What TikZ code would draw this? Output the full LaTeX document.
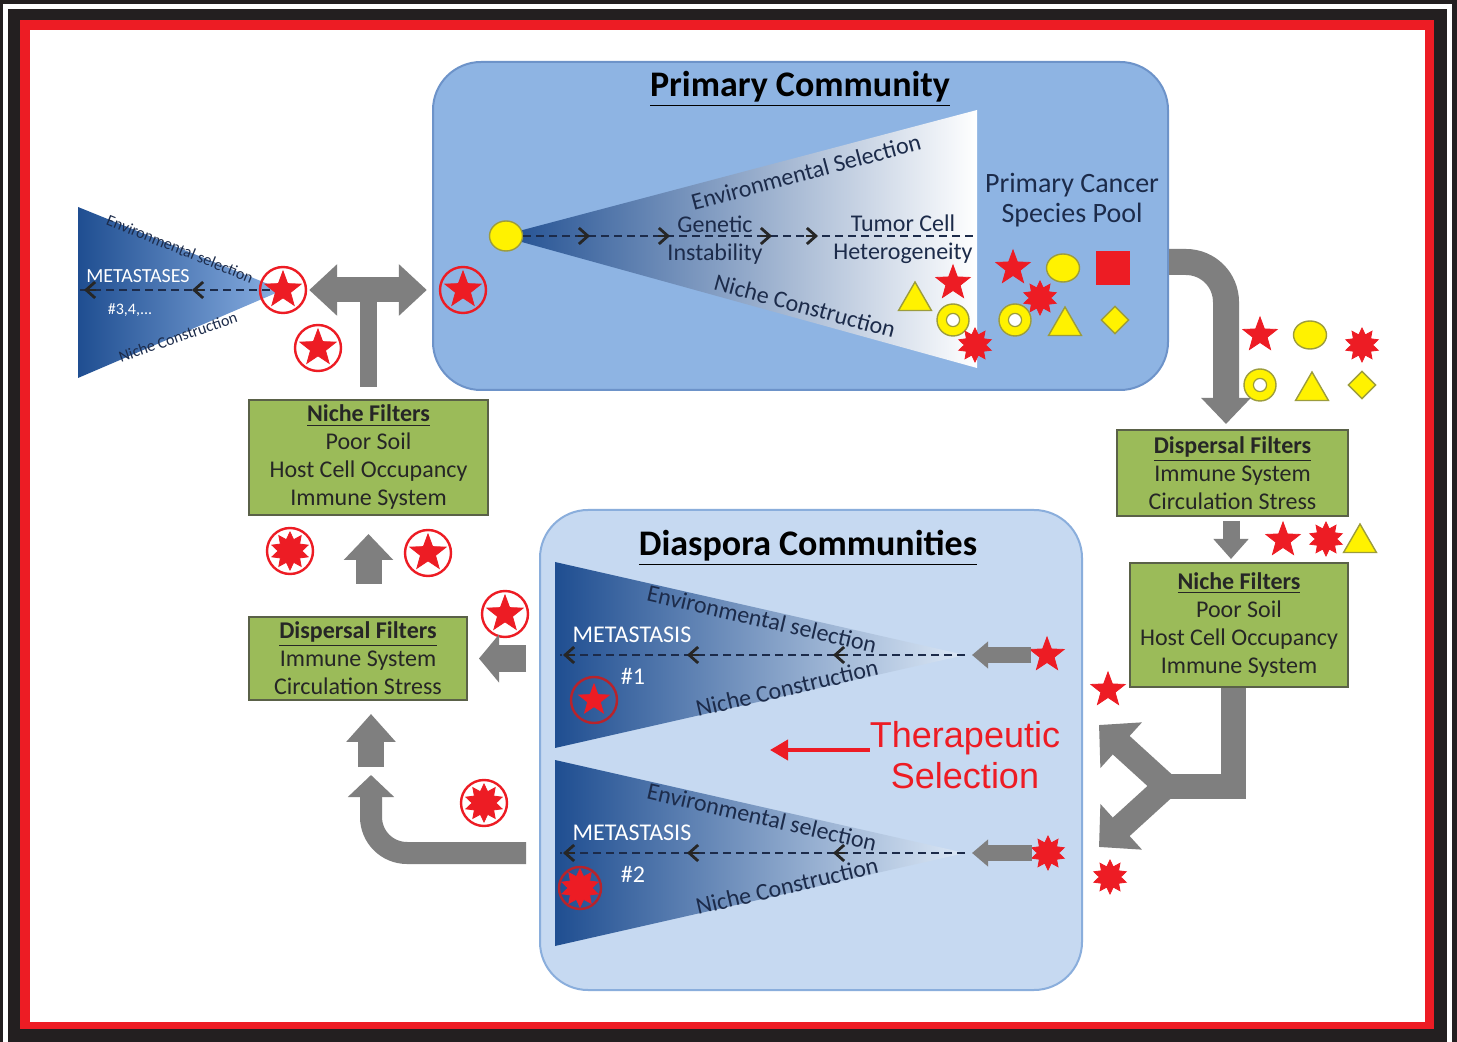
\documentclass[tikz,border=0pt]{standalone}
\usepackage{fontspec}
\setmainfont{Carlito}
\newfontfamily\arialfont{Liberation Sans}
\usepackage{tikz}
\usetikzlibrary{positioning}
\usetikzlibrary{shapes.geometric,arrows.meta}

\definecolor{FrameBlack}{HTML}{231F20}
\definecolor{PoolBlue}{HTML}{8EB4E3}
\definecolor{PoolEdge}{HTML}{6D93C9}
\definecolor{DiasBlue}{HTML}{C6D9F1}
\definecolor{DiasEdge}{HTML}{8AAEDC}
\definecolor{TriDeep}{HTML}{1F4E91}
\definecolor{LeftTip}{HTML}{8AB0E3}
\definecolor{TriPale}{HTML}{DCE8F6}
\definecolor{FilterGreen}{HTML}{9BBB59}
\definecolor{FilterEdge}{HTML}{5A6148}
\definecolor{ArrowGray}{HTML}{7F7F7F}
\definecolor{CellRed}{HTML}{ED1C24}
\definecolor{MarkDark}{HTML}{B8232B}
\definecolor{CellYellow}{HTML}{FFF200}
\definecolor{CellEdge}{HTML}{9C9C3C}
\definecolor{LabelNavy}{HTML}{1C2B4A}

\tikzset{
  community/.style={rounded corners=24pt, line width=1pt, inner sep=0pt},
  filterbox/.style={draw=FilterEdge, line width=1pt, fill=FilterGreen, align=center,
    inner sep=0pt, text=black!85, font=\fontsize{12}{14}\selectfont},
  titlelabel/.style={inner sep=0pt, font=\fontsize{18}{20}\selectfont\bfseries},
  tracelabel/.style={text=LabelNavy, inner sep=0pt, font=\fontsize{12}{14}\selectfont},
  smalllabel/.style={text=LabelNavy, inner sep=0pt, font=\fontsize{8}{9}\selectfont},
  metalabel/.style={text=white, inner sep=0pt, font=\fontsize{12}{14}\selectfont},
  tracer/.style={draw=LabelNavy, line width=1pt, dash pattern=on 4pt off 2.5pt},
  barb/.style={draw=black!85, line width=1.4pt, -{Straight Barb[length=4.5pt,width=8pt]}},
  flowarrow/.style={draw=ArrowGray, line width=#1},
  cellstar/.style={star, star points=5, star point ratio=2.4, fill=CellRed, draw=CellRed,
    inner sep=0pt, minimum size=18pt},
  cellburst/.style={star, star points=10, star point ratio=1.6, fill=CellRed, draw=CellRed,
    inner sep=0pt, minimum size=17pt},
  cellblob/.style={ellipse, fill=CellYellow, draw=CellEdge, line width=0.7pt, inner sep=0pt,
    minimum width=16.5pt, minimum height=14pt},
  cellring/.style={circle, fill=CellYellow, draw=CellEdge, line width=0.7pt, inner sep=0pt,
    minimum size=16pt, path picture={\draw[CellEdge, fill=white, line width=0.6pt]
      (path picture bounding box.center) circle (3.3pt);}},
  celltri/.style={regular polygon, regular polygon sides=3, fill=CellYellow, draw=CellEdge,
    line width=0.7pt, inner sep=0pt, minimum size=19pt},
  celldiam/.style={diamond, fill=CellYellow, draw=CellEdge, line width=0.7pt, inner sep=0pt,
    minimum size=14pt},
  cellbox/.style={rectangle, fill=CellRed, inner sep=0pt, minimum size=17pt},
  ringmark/.style={circle, draw=CellRed, line width=1.2pt, inner sep=0pt, minimum size=23pt}
}

\begin{document}
\begin{tikzpicture}[x=0.5pt,y=-0.5pt]
\useasboundingbox (0,0) rectangle (1457,1042);
% frame
\fill[FrameBlack] (0,0) rectangle (1457,1042);
\draw[white, line width=2.5pt] (5.5,1042) -- (5.5,6.5) -- (1449.5,6.5) -- (1449.5,1042);
\fill[CellRed] (20,20) rectangle (1434,1029);
\fill[white] (30,30) rectangle (1425,1022);

% communities
\node[community, draw=PoolEdge, fill=PoolBlue, minimum width=367.5pt, minimum height=164pt] (primary) at (800.5,226) {};
\node[community, draw=DiasEdge, fill=DiasBlue, minimum width=271pt, minimum height=240pt] (diaspora) at (811,750) {};
\node[titlelabel] (ptitle) at (800,89) {\underline{Primary Community}};
\node[titlelabel] (dtitle) at (808,548) {\underline{Diaspora Communities}};

% primary triangle
\coordinate (papex) at (500,236);
\coordinate (ptop) at (977,110);
\coordinate (pbot) at (977,368);
\shade[left color=TriDeep, right color=white] (papex) -- (ptop) -- (pbot) -- cycle;
\node[cellblob, minimum height=15pt] (seed) at (506,236) {};
\draw[tracer] (seed.east) -- (ptop |- seed);
\foreach \ax in {590,670,772,818}
  \draw[barb] (\ax-12,236) -- (\ax,236);
\node[tracelabel, rotate=15] (penv) at (806,172) {Environmental Selection};
\node[tracelabel, rotate=-15] (pniche) at (805,306) {Niche Construction};
\node[tracelabel, align=center] (pgen) at (715,240) {Genetic\\Instability};
\node[tracelabel, align=center] (phet) at (903,239) {Tumor Cell\\Heterogeneity};
\node[celltri] (ptri) at (915,301) {};
\node[cellstar] (pstar) at (953,283) {};
\node[cellring] (pring) at (953,320) {};
\node[cellburst] (pburst) at (975,345) {};

% species pool
\node[tracelabel, align=center, font=\fontsize{14}{15}\selectfont] (pool) at (1072,200) {Primary Cancer\\Species Pool};
\node[cellstar] (sstar) at (1013,268) {};
\node[cellblob] (sblob) at (1063,268) {};
\node[cellbox] (sbox) at (1113,268) {};
\node[cellburst] (sburst) at (1040,298) {};
\node[cellring] (sring) at (1015,320) {};
\node[celltri] (stri) at (1065,326) {};
\node[celldiam] (sdiam) at (1115,320) {};

% left triangle
\coordinate (lapex) at (283,290);
\coordinate (ltop) at (78,207);
\coordinate (lbot) at (78,378);
\shade[left color=TriDeep, right color=LeftTip] (ltop) -- (lapex) -- (lbot) -- cycle;
\draw[tracer] (lapex) -- (ltop |- lapex);
\foreach \ax in {84,192}
  \draw[barb] (\ax+12,290) -- (\ax,290);
\node[smalllabel, rotate=-22] (lenv) at (180,249) {Environmental selection};
\node[smalllabel, rotate=19] (lniche lbl) at (178,337) {Niche Construction};
\node[metalabel, font=\fontsize{10}{12}\selectfont] (lmeta) at (138,276) {METASTASES};
\node[metalabel, font=\fontsize{8}{9}\selectfont] (lnum) at (130,310) {\#3,4,...};

% circled cells
\foreach \m/\x/\y/\kind in {p/463/290/cellstar, l/283/290/cellstar, a/318/348/cellstar,
    b/290/551/cellburst, c/428/553/cellstar, d/505/614/cellstar, e/484/803/cellburst}{
  \node[ringmark] (mark\m) at (\x,\y) {};
  \node[\kind, minimum size=19pt] (core\m) at (mark\m) {};
}

% filters
\node[filterbox, minimum width=119.5pt, minimum height=57.5pt] (lniche) at (368.5,457.5)
  {\textbf{\underline{Niche Filters}}\\Poor Soil\\Host Cell Occupancy\\Immune System};
\node[filterbox, minimum width=109pt, minimum height=41.5pt] (ldisp) at (358,658.5)
  {\textbf{\underline{Dispersal Filters}}\\Immune System\\Circulation Stress};
\node[filterbox, minimum width=115.5pt, minimum height=43pt] (rdisp) at (1232.5,473)
  {\textbf{\underline{Dispersal Filters}}\\Immune System\\Circulation Stress};
\node[filterbox, minimum width=109pt, minimum height=62pt] (rniche) at (1239,625)
  {\textbf{\underline{Niche Filters}}\\Poor Soil\\Host Cell Occupancy\\Immune System};

% escaped cells
\node[cellstar] (estar) at (1260,335) {};
\node[cellblob] (eblob) at (1310,335) {};
\node[cellburst] (eburst) at (1362,345) {};
\node[cellring] (ering) at (1260,385) {};
\node[celltri] (etri) at (1312,391) {};
\node[celldiam] (ediam) at (1362,385) {};
\node[cellstar] (fstar) at (1283,540) {};
\node[cellburst] (fburst) at (1326,539) {};
\node[celltri] (ftri) at (1360,543) {};
\node[cellstar] (gstar) at (1108,690) {};
\node[cellburst] (gburst) at (1110,877) {};

% diaspora triangles
\foreach \n/\ty in {1/655,2/853}{
  \coordinate (dapex\n) at (965,\ty);
  \shade[left color=TriDeep, right color=TriPale] (555,\ty-93) -- (dapex\n) -- (555,\ty+93) -- cycle;
  \draw[tracer] (dapex\n) -- (560,\ty);
  \foreach \ax in {563,687,833}
    \draw[barb] (\ax+12,\ty) -- (\ax,\ty);
  \node[tracelabel, rotate=-13] (denv\n) at (762,\ty-36) {Environmental selection};
  \node[tracelabel, rotate=13] (dniche\n) at (787,\ty+33) {Niche Construction};
  \node[metalabel] (dmeta\n) at (632,\ty-20) {METASTASIS};
  \node[metalabel] (dnum\n) at (633,\ty+21) {\#\n};
}
\node[ringmark, draw=MarkDark] (markf) at (594,700) {};
\node[cellstar, minimum size=16pt] (coref) at (markf) {};
\node[ringmark, draw=MarkDark, minimum size=21pt] (markg) at (580,888) {};
\node[cellburst, minimum size=19pt] (coreg) at (markg) {};
\node[cellstar] (dcell1) at (1047,655) {};
\node[cellburst] (dcell2) at (1048,853) {};

% therapy
\node[text=CellRed, align=center, inner sep=0pt, font=\arialfont\fontsize{18}{20.5}\selectfont] (thera) at (965,755) {Therapeutic\\Selection};
\draw[draw=CellRed, line width=2pt, -{Triangle[width=10pt,length=9pt]}] ([yshift=2.5pt]thera.west) -- ([yshift=2.5pt]thera.west -| 770,0);

% gray arrows
\draw[flowarrow=8.5pt, shorten <=6pt] (lniche.north) -- (lniche.north |- markl);
\draw[flowarrow=12.5pt, {Triangle[width=25pt,length=14pt]}-{Triangle[width=25pt,length=14pt]}, shorten <=1pt, shorten >=6pt] (markl.east) -- (markp.west);
\draw[flowarrow=13pt, rounded corners=20pt, -{Triangle[width=24pt,length=13pt]}, shorten >=2.5pt] (primary.east |- 0,262) -| (rdisp.north -| 1226,0);
\draw[flowarrow=8.5pt, -{Triangle[width=17pt,length=10pt]}, shorten <=2pt, shorten >=1.5pt] (rdisp.south -| 1231,0) -- (rniche.north -| 1231,0);
\coordinate (yfork) at (1166,786);
\coordinate (yup) at (1099,725);
\coordinate (ydown) at (1099,847);
\draw[flowarrow=12.5pt] (rniche.south -| 1233,0) |- (yfork);
\draw[flowarrow=12.5pt, -{Triangle[width=30pt,length=15pt]}] (yfork) -- (yup);
\draw[flowarrow=12.5pt, -{Triangle[width=30pt,length=15pt]}] (yfork) -- (ydown);
\foreach \n in {1,2}
  \draw[flowarrow=8pt, -{Triangle[width=13pt,length=8pt]}, shorten <=2.5pt, shorten >=3.5pt] (dcell\n.west) -- (dapex\n);
\draw[flowarrow=13.5pt, -{Triangle[width=23.5pt,length=10pt]}, shorten <=6.5pt, shorten >=5.5pt] (diaspora.west |- ldisp.east) -- (ldisp.east);
\draw[flowarrow=13pt, -{Triangle[width=24pt,length=13pt]}, shorten <=16pt, shorten >=9pt] (ldisp.north -| lniche.south) -- (lniche.south);
\coordinate (lturn) at (371,771);
\draw[flowarrow=11pt, rounded corners=18pt, -{Triangle[width=22.5pt,length=11pt]}, shorten <=6.5pt, shorten >=2pt] (diaspora.west |- dapex2) -| (lturn);
\draw[flowarrow=13pt, -{Triangle[width=24pt,length=14pt]}, shorten >=6.5pt] ([yshift=2pt]lturn) -- (lturn |- ldisp.south);
\end{tikzpicture}
\end{document}
